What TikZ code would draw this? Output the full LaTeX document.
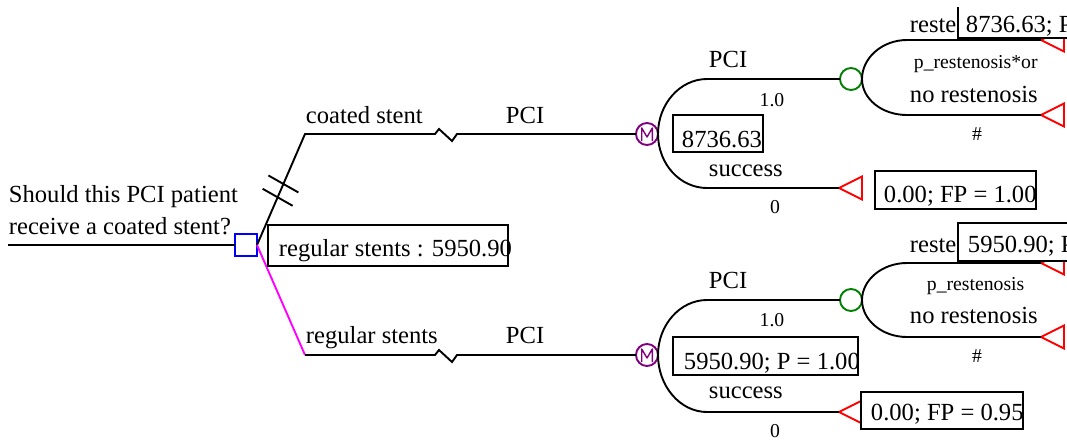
\documentclass[tikz,border=0pt]{standalone}
\usepackage{fontspec}
\setmainfont{Liberation Serif}
\usetikzlibrary{shapes.geometric,calc}
\definecolor{tblue}{RGB}{0,0,255}
\definecolor{tmag}{RGB}{255,0,255}
\definecolor{tpurple}{RGB}{128,0,128}
\definecolor{tgreen}{RGB}{0,128,0}
\definecolor{tred}{RGB}{255,0,0}
\begin{document}
\begin{tikzpicture}[x=1pt,y=-1pt,line width=1.9pt,
  big/.style={font=\fontsize{24.6}{28}\selectfont,inner sep=0,anchor=base west},
  bigc/.style={big,anchor=base},
  small/.style={font=\fontsize{19.7}{23}\selectfont,inner sep=0,anchor=base west},
  smallc/.style={small,anchor=base},
  valbox/.style={draw,fill=white,inner sep=0,outer sep=0,anchor=north west},
  term/.style={isosceles triangle,shape border rotate=180,isosceles triangle stretches,
    minimum width=23pt,minimum height=23pt,inner sep=0,outer sep=0,draw=tred,anchor=apex},
  chance/.style={circle,draw=tgreen,minimum size=22pt,inner sep=0,outer sep=0},
  decision/.style={rectangle,draw=tblue,minimum size=22pt,inner sep=0,outer sep=0},
  markov/.style={circle,draw=tpurple,minimum size=22pt,inner sep=0,outer sep=0,
    path picture={\draw[tpurple,line width=1.4pt,line join=round]
      ([shift={(-5.3pt,-7pt)}]path picture bounding box.center) --
      ([shift={(-5.3pt,6pt)}]path picture bounding box.center) --
      ([shift={(0pt,-3pt)}]path picture bounding box.center) --
      ([shift={(5.3pt,6pt)}]path picture bounding box.center) --
      ([shift={(5.3pt,-7pt)}]path picture bounding box.center);}},
]
\useasboundingbox (0,0) rectangle (1067,440);
\clip (0,0) rectangle (1067,440);

% coordinates
\coordinate (root) at (8,245);
\coordinate (cs) at (305,134);
\coordinate (z1) at (435,134);
\coordinate (rs) at (305,355);
\coordinate (z2) at (435,355);
\coordinate (m1t) at (707,79);
\coordinate (m1b) at (707,188);
\coordinate (c1t) at (907,40);
\coordinate (c1b) at (907,115);
\coordinate (m2t) at (707,300);
\coordinate (m2b) at (707,412);
\coordinate (c2t) at (907,263);
\coordinate (c2b) at (907,337);

% nodes
\node[decision] (dec) at (246,245) {};
\node[markov] (m1) at (647,134) {};
\node[markov] (m2) at (647,355) {};
\node[chance] (c1) at (851,79) {};
\node[chance] (c2) at (851,300) {};
\node[term] (t1a) at (1041,40) {};
\node[term] (t1b) at (1041,115) {};
\node[term] (t1c) at (839,188) {};
\node[term] (t2a) at (1041,263) {};
\node[term] (t2b) at (1041,337) {};
\node[term] (t2c) at (839,412) {};

% connectors
\draw (root) -- (dec.west);
\draw (dec.east) -- (cs) -- (z1) -- ++(4,-5) -- ++(13,12) -- ++(5,-7) -- (m1.west);
\draw[tmag] (dec.east) -- (rs);
\draw (rs) -- (z2) -- ++(4,-5) -- ++(13,12) -- ++(5,-7) -- (m2.west);
\draw ($(dec.east)!0.55!(cs)$) ++(-15,-8.5) -- ++(30,17);
\draw ($(dec.east)!0.43!(cs)$) ++(-15,-8.5) -- ++(30,17);

\draw (c1.west) -- (m1t) .. controls +(-27,0) and +(0,-30) .. (m1.east)
      .. controls +(0,30) and +(-27,0) .. (m1b) -- (t1c.apex);
\draw (t1a.apex) -- (c1t) .. controls +(-25,0) and +(0,-21) .. (c1.east)
      .. controls +(0,20) and +(-25,0) .. (c1b) -- (t1b.apex);
\draw (c2.west) -- (m2t) .. controls +(-27,0) and +(0,-30) .. (m2.east)
      .. controls +(0,31) and +(-27,0) .. (m2b) -- (t2c.apex);
\draw (t2a.apex) -- (c2t) .. controls +(-25,0) and +(0,-20) .. (c2.east)
      .. controls +(0,20) and +(-25,0) .. (c2b) -- (t2b.apex);

% root labels
\node[big] (q1) at (8,202) {Should this PCI patient};
\node[big] (q2) at (8,234) {receive a coated stent?};
\node[valbox,minimum width=240pt,minimum height=41pt] (rsbox) at (268,225) {};
\node[big] (rsval) at (278,256) {regular stents : 5950.90};

% upper branch labels
\node[big] (l1) at (305,123) {coated stent};
\node[big] (l2) at (505,123) {PCI};
\node[big] (l3) at (708,67) {PCI};
\node[smallc] (l4) at (772,106) {1.0};
\node[valbox,minimum width=90pt,minimum height=37pt] (v1) at (673,115) {};
\node[big] (v1t) at (681,147) {8736.63};
\node[big] (l5) at (708,176) {success};
\node[smallc] (l6) at (775,213) {0};
\node[valbox,minimum width=161pt,minimum height=38pt] (v2) at (875,171) {};
\node[big] (v2t) at (883,202) {0.00; FP = 1.00};
\node[big] (l7) at (909,32) {restenosis};
\node[fill=white,inner sep=0,outer sep=0,anchor=north west,minimum width=140pt,minimum height=31pt] (v3) at (958,7) {};
\draw (v3.north west) -- (v3.south west) -- (v3.south east);
\node[big] (v3t) at (965,32) {8736.63; P = 1.00};
\node[small] (l8) at (913,68) {p\_restenosis*or};
\node[big] (l9) at (909,102) {no restenosis};
\node[smallc] (l10) at (977,140) {\#};

% lower branch labels
\node[big] (k1) at (305,343) {regular stents};
\node[big] (k2) at (505,343) {PCI};
\node[big] (k3) at (708,288) {PCI};
\node[smallc] (k4) at (772,326) {1.0};
\node[valbox,minimum width=185pt,minimum height=38pt] (w1) at (673,337) {};
\node[big] (w1t) at (683,369) {5950.90; P = 1.00};
\node[big] (k5) at (708,398) {success};
\node[smallc] (k6) at (775,437) {0};
\node[valbox,minimum width=162pt,minimum height=37pt] (w2) at (861,392) {};
\node[big] (w2t) at (870,420) {0.00; FP = 0.95};
\node[big] (k7) at (909,252) {restenosis};
\node[valbox,minimum width=140pt,minimum height=38pt] (w3) at (958,223) {};
\node[big] (w3t) at (967,252) {5950.90; P = 1.00};
\node[small] (k8) at (926,290) {p\_restenosis};
\node[big] (k9) at (909,323) {no restenosis};
\node[smallc] (k10) at (977,362) {\#};
\end{tikzpicture}
\end{document}
